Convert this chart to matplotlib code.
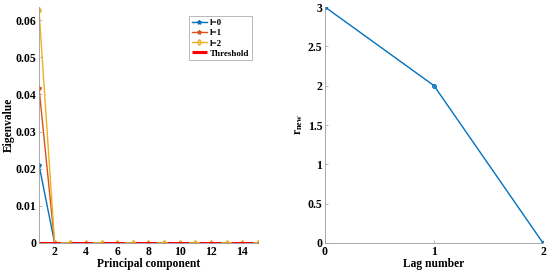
import numpy as np
import matplotlib
matplotlib.use("Agg")
import matplotlib.pyplot as plt

plt.rcParams['font.family'] = ['Liberation Serif', 'DejaVu Serif']
plt.rcParams['font.weight'] = 'bold'
plt.rcParams['mathtext.fontset'] = 'custom'
plt.rcParams['mathtext.rm'] = 'Liberation Serif:bold'
plt.rcParams['mathtext.it'] = 'Liberation Serif:bold'

# left panel: eigenvalues per principal component
components = np.arange(1, 16)
eig_l0 = [0.021] + [0.0] * 14
eig_l1 = [0.0418] + [0.0] * 14
eig_l2 = [0.0627] + [0.0] * 14
threshold = [0.0] * 15

# right panel: r_new vs lag number
lags = [0, 1, 2]
r_new = [3, 2, 0]

fig = plt.figure(figsize=(5.5, 2.76), dpi=100)
ax1 = fig.add_axes([0.0709, 0.1196, 0.398, 0.855])
ax2 = fig.add_axes([0.5909, 0.1196, 0.3964, 0.855])

ax1.plot(components, eig_l0, color='#0072BD', marker='*', ms=3, lw=1, label='l=0')
ax1.plot(components, eig_l1, color='#D95319', marker='*', ms=3, lw=1, label='l=1')
ax1.plot(components, eig_l2, color='#EDB120', marker='d', ms=3, mfc='none', lw=1, label='l=2')
ax1.plot(components, threshold, color='red', ls=(0, (6.9, 3.6)), lw=2.2, label='Threshold')
ax1.set_xlim(1, 15)
ax1.set_ylim(0, 0.0635)
ax1.set_xticks([2, 4, 6, 8, 10, 12, 14])
ax1.set_yticks([0, 0.01, 0.02, 0.03, 0.04, 0.05, 0.06])
ax1.set_yticklabels(['0', '0.01', '0.02', '0.03', '0.04', '0.05', '0.06'])
ax1.set_xlabel('Principal component', fontsize=8.3, fontweight='bold', labelpad=0)
ax1.set_ylabel('Eigenvalue', fontsize=8.3, fontweight='bold')
ax1.yaxis.set_label_coords(-0.112, 0.5)
leg = ax1.legend(loc='upper right', bbox_to_anchor=(0.995, 0.98), fontsize=6.5,
                 frameon=True, fancybox=False, edgecolor='#999999',
                 handlelength=1.6, handletextpad=0.4, borderpad=0.3, labelspacing=0.2)
leg.get_frame().set_linewidth(0.6)

ax2.plot(lags, r_new, color='#0072BD', marker='o', ms=2.5, mfc='none', lw=1)
ax2.set_xlim(0, 2)
ax2.set_ylim(0, 3)
ax2.set_xticks([0, 1, 2])
ax2.set_yticks([0, 0.5, 1, 1.5, 2, 2.5, 3])
ax2.set_yticklabels(['0', '0.5', '1', '1.5', '2', '2.5', '3'])
ax2.set_xlabel('Lag number', fontsize=8.3, fontweight='bold', labelpad=0)
ax2.set_ylabel('r$_{\\rm new}$', fontsize=8.3, fontweight='bold', labelpad=2)

for ax in (ax1, ax2):
    for s in ('top', 'right'):
        ax.spines[s].set_visible(False)
    for s in ('left', 'bottom'):
        ax.spines[s].set_color('#9a9a9a')
        ax.spines[s].set_linewidth(0.6)
    ax.tick_params(direction='in', length=2, width=0.5, color='#9a9a9a', labelsize=8.5, pad=2)
    for lab in ax.get_xticklabels() + ax.get_yticklabels():
        lab.set_fontweight('bold')

fig.savefig('out.png', dpi=100)
